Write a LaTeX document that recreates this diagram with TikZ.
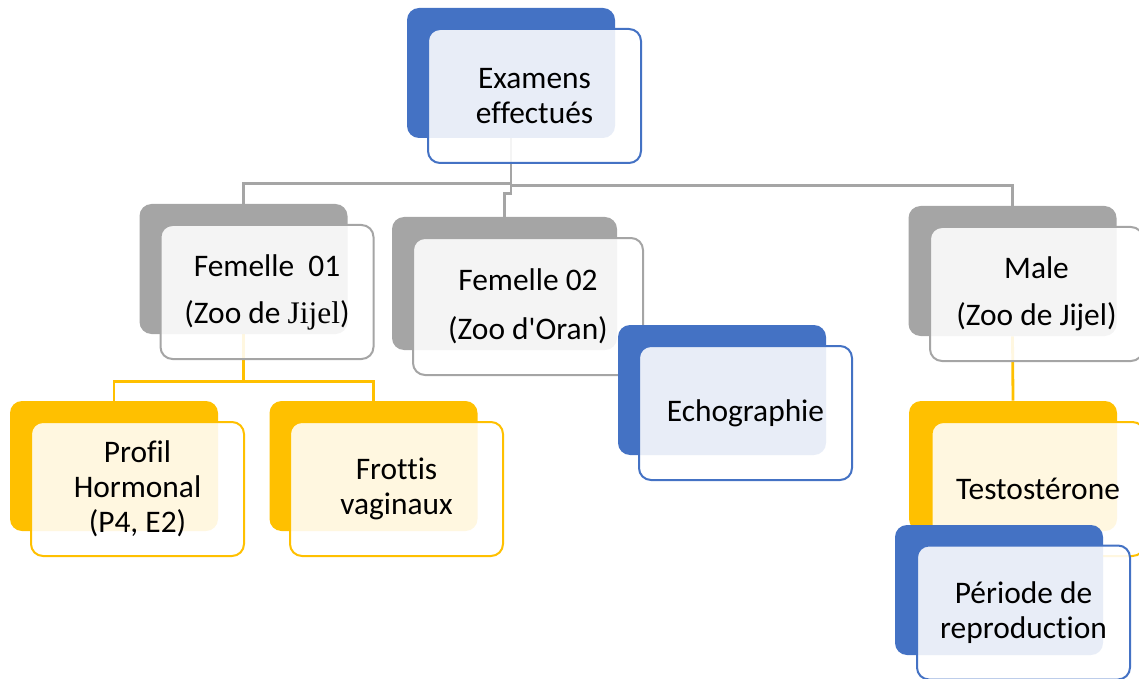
\documentclass[tikz,border=0pt]{standalone}
\usepackage{fontspec}
\setmainfont{Carlito}[Ligatures={NoCommon}]
\newfontfamily\jijelfont{Liberation Serif}
\usetikzlibrary{backgrounds}

\definecolor{blueC}{HTML}{4472C4}
\definecolor{grayC}{HTML}{A5A5A5}
\definecolor{yellowC}{HTML}{FFC000}

\tikzset{
	backbox/.style={fill=#1, rounded corners=6pt, minimum width=104pt, minimum height=65pt, inner sep=0pt},
	frontbox/.style={draw=#1, line width=1pt, fill=white, fill opacity=0.88, text opacity=1, rounded corners=6pt,
		minimum width=106.5pt, minimum height=67pt, inner sep=0pt, align=center,
		font=\fontsize{15.7}{17.5}\selectfont},
	grayline/.style={draw=grayC, line width=1.4pt},
	yellowline/.style={draw=yellowC, line width=1.4pt}
}

\begin{document}
\begin{tikzpicture}[x=0.5pt, y=-0.5pt]

		\useasboundingbox (0,0) rectangle (1139,679);

		\node[backbox=blueC] (rootB) at (511, 73) {};
		\node[frontbox=blueC] (root) at (534.5, 96) {Examens\\effectués};

		\node[backbox=grayC] (f1B) at (243.5, 269) {};
		\node[frontbox=grayC] (f1) at (267, 292) {Femelle~~01\\[6pt](Zoo de {\jijelfont Jijel})};

		\node[backbox=grayC, minimum width=112.5pt, minimum height=66.5pt] (f2B) at (504.5, 283.5) {};
		\node[frontbox=grayC, minimum width=115pt, minimum height=68.5pt] (f2) at (528, 306.5) {Femelle 02\\[7pt](Zoo d\textquotesingle Oran)};

		\node[backbox=blueC] (echoB) at (722, 390) {};
		\node[frontbox=blueC] (echo) at (745.5, 413) {Echographie};

		\node[backbox=grayC] (maleB) at (1012.5, 271) {};
		\node[frontbox=grayC] (male) at (1036.5, 294) {Male\\[6pt](Zoo de Jijel)};

		\node[backbox=yellowC] (profB) at (114, 466) {};
		\node[frontbox=yellowC] (prof) at (137.5, 489) {Profil\\Hormonal\\(P4, E2)};

		\node[backbox=yellowC] (frotB) at (373.5, 466) {};
		\node[frontbox=yellowC] (frot) at (396.5, 489) {Frottis\\vaginaux};

		\node[backbox=yellowC] (testoB) at (1013, 466) {};
		\node[frontbox=yellowC] (testo) at (1038, 489) {Testostérone};

		\node[backbox=blueC] (perB) at (999, 590) {};
		\node[frontbox=blueC] (per) at (1023.5, 612.5) {Période de\\reproduction};

		\begin{pgfonlayer}{background}
			\draw[grayline] (rootB.south) -- ++(0,45) -| (f1B.north);
			\draw[grayline] (rootB.south) -- ++(0,47) -| (maleB.north);
			\draw[grayline] (rootB.south) -- ++(0,55) -| (f2B.north);
			\draw[yellowline] (f1B.south) -- ++(0,47) -| (profB.north);
			\draw[yellowline] (f1B.south) -- ++(0,47) -| (frotB.north);
			\draw[yellowline] (maleB.south) -- (testoB.north);
		\end{pgfonlayer}

	\end{tikzpicture}
\end{document}
